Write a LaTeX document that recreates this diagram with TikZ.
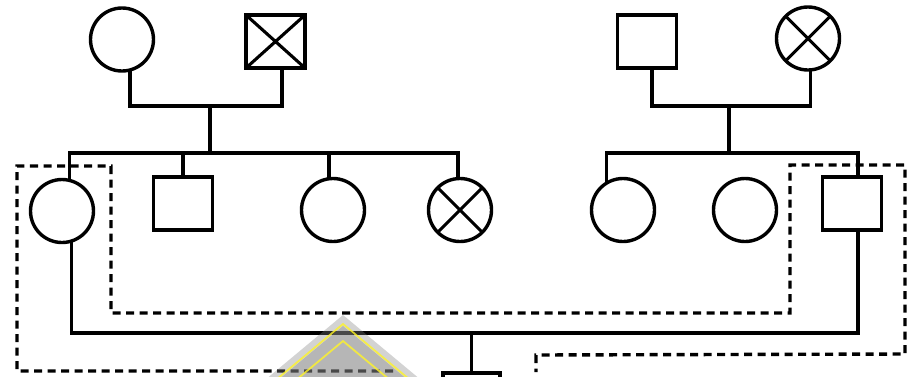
\documentclass[tikz,border=0pt]{standalone}
\usetikzlibrary{calc}
\begin{document}
\begin{tikzpicture}[x=1pt,y=-1pt,
  every node/.style={inner sep=0pt,outer sep=0pt},
  solidline/.style={line width=3.4pt},
  fem/.style={circle,draw,line width=3.4pt,minimum size=63pt},
  mal/.style={rectangle,draw,line width=3.4pt,minimum width=59pt,minimum height=53pt},
  xline/.style={line width=3.1pt},
  kin/.style={line width=3.4pt,dash pattern=on 8pt off 5.5pt},
  wmark/.style={fill=gray,opacity=0.35},
  wline/.style={draw=yellow!85!white,line width=1.8pt,opacity=0.8}]
\clip (0,0) rectangle (911,376);
% grandparents, left
\node[fem] (gm1) at (122,39.5) {};
\node[mal] (gf1) at (275.5,41.5) {};
\draw[xline] (gf1.north west)--(gf1.south east) (gf1.north east)--(gf1.south west);
% grandparents, right
\node[mal] (gf2) at (647,41.5) {};
\node[fem] (gm2) at (808,38.5) {};
\draw[xline] (gm2.45)--(gm2.225) (gm2.135)--(gm2.-45);
\coordinate (j1) at (210,106);
\coordinate (s1) at (210,153);
\coordinate (j2) at (729,106);
\coordinate (s2) at (729,153);
% children
\node[fem] (c1) at (62,211) {};
\node[mal] (c2) at (183,203.5) {};
\node[fem] (c3) at (333,210) {};
\node[fem] (c4) at (460,210) {};
\draw[xline] (c4.45)--(c4.225) (c4.135)--(c4.-45);
\node[fem] (c5) at (623,210) {};
\node[fem] (c6) at (745,210) {};
\node[mal] (c7) at (852,203.5) {};
\node[mal,minimum width=57pt] (g3) at (471.5,399.5) {};
\coordinate (m) at (471.5,333);
% connectors
\draw[solidline] (gm1.-75) |- (j1) -| ([xshift=6.5pt]gf1.south);
\draw[solidline] (j1) -- (s1);
\draw[solidline] (c1.76) |- (s1) -| (c4.94);
\draw[solidline] (c2.north) -- (c2.north |- s1);
\draw[solidline] (c3.97) -- (c3.97 |- s1);
\draw[solidline] ([xshift=5pt]gf2.south) |- (j2) -| (gm2.-86);
\draw[solidline] (j2) -- (s2);
\draw[solidline] (c5.122) |- (s2) -| ([xshift=6pt]c7.north);
\draw[solidline] (c1.-72) |- (m) -| ([xshift=6pt]c7.south);
\draw[solidline] (m) -- (g3.north);
% dashed loop
\draw[kin] (393,371) -- (17,371) -- (17,166) -- (111,166) -- (111,313)
  -- (790,313) -- (790,165) -- (905,165) -- (905,354) -- (536,355) -- (536,372);
% watermark
\fill[wmark] (343,315) -- (469,420) -- (217,420) -- cycle;
\fill[wmark] (343,326) -- (456,420) -- (230,420) -- cycle;
\draw[wline] (228,420) -- (343,324) -- (458,420);
\draw[wline] (248,420) -- (343,341) -- (438,420);
\end{tikzpicture}
\end{document}
